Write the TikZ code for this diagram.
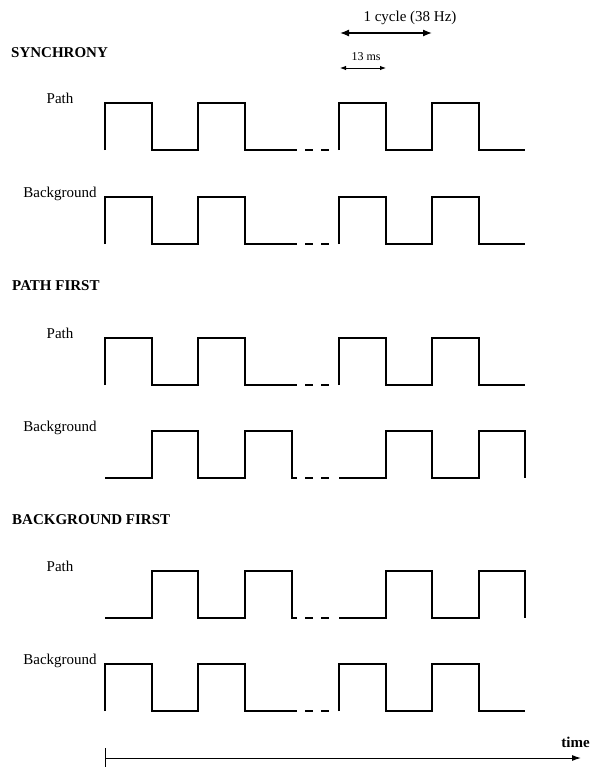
\documentclass[tikz,border=0pt]{standalone}
\usepackage{fontspec}
\setmainfont{Liberation Serif}
\usepackage{tikz}
\usetikzlibrary{arrows.meta}

% #1 = y of the high level
\newcommand{\inphase}[1]{%
  \draw[wave] (105,#1+47) |- (152,#1) |- (198,#1+47) |- (245,#1) |- (297,#1+47);
  \draw[wave, skip] (297,#1+47) -- (333,#1+47);
  \draw[wave] (339,#1+47) |- (386,#1) |- (432,#1+47) |- (479,#1) |- (525,#1+47);}
\newcommand{\outphase}[1]{%
  \draw[wave] (105,#1+47) -| (152,#1) -| (198,#1+47) -| (245,#1) -| (292,#1+47) -- (297,#1+47);
  \draw[wave, skip] (297,#1+47) -- (333,#1+47);
  \draw[wave] (339,#1+47) -| (386,#1) -| (432,#1+47) -| (479,#1) -| (525,#1+47);}

\begin{document}
\begin{tikzpicture}[
  x=1pt, y=-1pt,
  wave/.style={line width=1.1pt},
  skip/.style={dash pattern=on 8pt off 8pt, dash phase=8pt},
  txt/.style={font=\fontsize{15}{18}\selectfont, inner sep=0pt, anchor=base},
  small/.style={font=\fontsize{12}{14}\selectfont, inner sep=0pt, anchor=base},
  head/.style={font=\bfseries\fontsize{15}{18}\selectfont, inner sep=0pt, anchor=base west},
  arr/.style={{Latex[length=9pt,width=7pt]}-{Latex[length=9pt,width=7pt]}, line width=1.3pt},
  arrsmall/.style={{Latex[length=6pt,width=4.5pt]}-{Latex[length=6pt,width=4.5pt]}, line width=0.9pt},
  axis/.style={-{Latex[length=9pt,width=6pt]}, line width=1pt}
]
\useasboundingbox (0,0) rectangle (590,768);

% scale marks
\coordinate (cycL) at (340,33);
\coordinate (cycR) at (432,33);
\draw[arr] (cycL) -- (cycR);
\node[txt] (cycle) at (410,22) {1 cycle (38 Hz)};
\coordinate (msL) at (340,68);
\coordinate (msR) at (386,68);
\draw[arrsmall] (msL) -- (msR);
\node[small] (ms) at (366,60) {13 ms};

% synchrony
\node[head] (sync) at (11,57) {SYNCHRONY};
\node[txt] (path1) at (60,103) {Path};
\inphase{103}
\node[txt] (back1) at (60,197) {Background};
\inphase{197}

% path first
\node[head] (pfirst) at (12,290) {PATH FIRST};
\node[txt] (path2) at (60,338) {Path};
\inphase{338}
\node[txt] (back2) at (60,431) {Background};
\outphase{431}

% background first
\node[head] (bfirst) at (12,524) {BACKGROUND FIRST};
\node[txt] (path3) at (60,571) {Path};
\outphase{571}
\node[txt] (back3) at (60,664) {Background};
\inphase{664}

% time axis
\coordinate (t0) at (105,758);
\coordinate (t1) at (581,758);
\coordinate (tickT) at (105,748);
\coordinate (tickB) at (105,767);
\draw[axis] (t0) -- (t1);
\draw[line width=1pt] (tickT) -- (tickB);
\node[head, anchor=base east] (time) at (590,747) {time};
\end{tikzpicture}
\end{document}
